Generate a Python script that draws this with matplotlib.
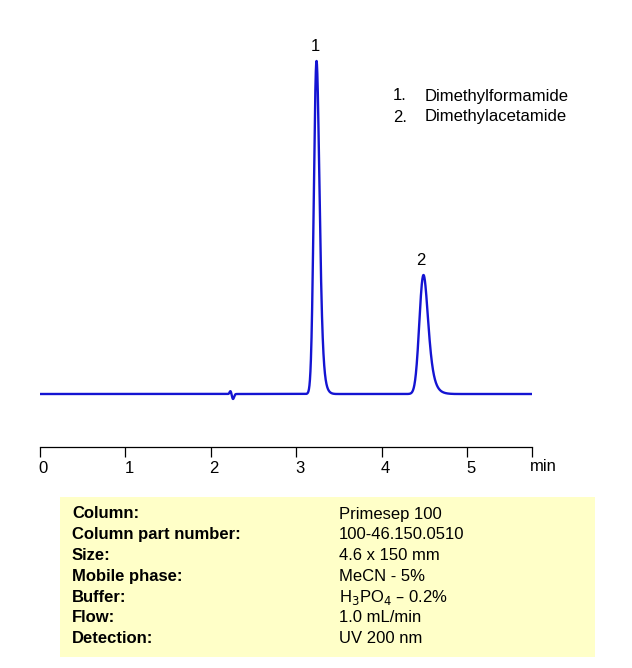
import numpy as np
import matplotlib.pyplot as plt
from matplotlib.transforms import ScaledTranslation

plt.rcParams['font.family'] = ['Liberation Sans', 'DejaVu Sans']

# Peaks (retention time in min, height, width, tailing)
peak_labels = ['1', '2']
peak_names = ['Dimethylformamide', 'Dimethylacetamide']
peak_times = [3.22, 4.46]
peak_heights = [333, 119]
peak_sigmas = [0.028, 0.042]
peak_tails = [0.025, 0.045]

# small injection/system disturbance near 2.25 min
blip_time = 2.26
blip_height = -5

xticks = [0, 1, 2, 3, 4, 5]

conditions = ['Column:', 'Column part number:', 'Size:', 'Mobile phase:',
              'Buffer:', 'Flow:', 'Detection:']
values = ['Primesep 100', '100-46.150.0510', '4.6 x 150 mm', 'MeCN - 5%',
          r'H$_3$PO$_4$ – 0.2%', '1.0 mL/min', 'UV 200 nm']


def peak_shape(t, t0, h, s, tau):
    # gaussian convolved with a short exponential tail
    dt = t[1] - t[0]
    g = np.exp(-0.5 * ((t - t0) / s) ** 2)
    k = np.exp(-np.arange(0, 8 * tau, dt) / tau)
    y = np.convolve(g, k)[:len(t)]
    return h * y / y.max()


t = np.linspace(0, 5.76, 4000)
signal = np.zeros_like(t)
for t0, h, s, tau in zip(peak_times, peak_heights, peak_sigmas, peak_tails):
    signal += peak_shape(t, t0, h, s, tau)
signal += blip_height * np.exp(-0.5 * ((t - blip_time) / 0.012) ** 2)
signal += 3 * np.exp(-0.5 * ((t - blip_time + 0.03) / 0.01) ** 2)

fig = plt.figure(figsize=(6.32, 6.68), dpi=100)
W, H = 632, 668
ax = fig.add_axes([40 / W, (H - 447) / H, (532 - 40) / W, (447 - 30) / H])
ax.plot(t, signal, color='#1414D2', lw=1.7)
ax.set_xlim(0, 5.76)
ax.set_ylim(-53, 364)

for s in ['left', 'right', 'top']:
    ax.spines[s].set_visible(False)
ax.spines['bottom'].set_linewidth(0.9)
ax.set_yticks([])
ax.set_xticks(xticks + [5.76])
ax.set_xticklabels([str(v) for v in xticks] + [''])
ax.tick_params(axis='x', direction='out', length=7, width=0.9, labelsize=12, pad=3)
shift = ScaledTranslation(2.5 / 72, 0, fig.dpi_scale_trans)
for lab in ax.get_xticklabels():
    lab.set_transform(lab.get_transform() + shift)
ax.annotate('min', xy=(5.76, 0), xycoords=('data', 'axes fraction'),
            xytext=(-1.5, -8.5), textcoords='offset points',
            fontsize=12, va='top', ha='left')

for lbl, t0, h in zip(peak_labels, peak_times, peak_heights):
    ax.annotate(lbl, xy=(t0, h), xytext=(0, 5), textcoords='offset points',
                ha='center', va='bottom', fontsize=12)

for i, name in enumerate(peak_names):
    y = 96 + i * 21
    fig.text(393 / W, 1 - y / H, f'{i + 1}.', fontsize=12, va='center')
    fig.text(425 / W, 1 - y / H, name, fontsize=12, va='center')

# conditions box
fig.patches.append(plt.Rectangle((60 / W, 1 - 657 / H), (595 - 60) / W, (657 - 497) / H,
                                 transform=fig.transFigure, facecolor='#FFFFC8',
                                 edgecolor='none', zorder=0))
for i, (c, v) in enumerate(zip(conditions, values)):
    y = 514 + i * 20.8
    fig.text(72 / W, 1 - y / H, c, fontsize=12, fontweight='bold', va='center')
    fig.text(339 / W, 1 - y / H, v, fontsize=12, va='center')

fig.savefig('out.png', dpi=100)
